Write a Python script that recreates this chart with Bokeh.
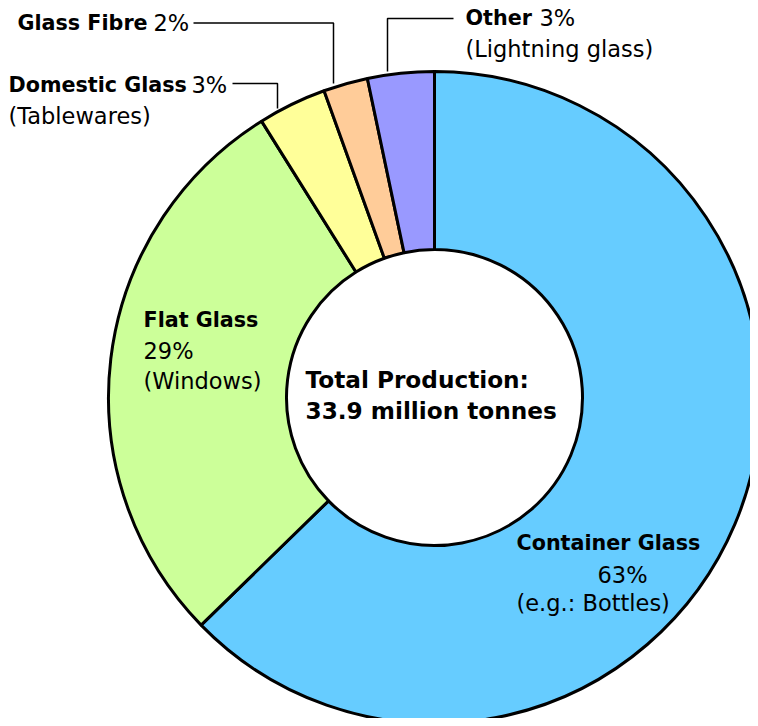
import numpy as np
from bokeh.plotting import figure
from bokeh.models import ColumnDataSource, Range1d
from bokeh.core.properties import value
from bokeh.embed import file_html
from bokeh.resources import INLINE

# ---- data ----
categories = ["Container Glass", "Flat Glass", "Domestic Glass", "Glass Fibre", "Other"]
shares = [62.7, 28.4, 3.4, 2.2, 3.3]          # wedge sizes
pct_labels = ["63%", "29%", "3%", "2%", "3%"]
notes = ["(e.g.: Bottles)", "(Windows)", "(Tablewares)", "", "(Lightning glass)"]
colors = ["#66CCFF", "#CCFF99", "#FFFF99", "#FFCC99", "#9999FF"]
center_title = "Total Production:"
center_total = "33.9 million tonnes"

# ---- layout ----
W, H = 750, 718
CX, CY = 434, -397
R_OUT, R_IN = 326, 148
FONT = "DejaVu Sans"
FS_REG = "22.5px"
FS_BOLD = "20.7px"
FS_CENTER = "23.2px"
TDY = 8  # text baseline correction

fr = np.array(shares) / sum(shares)
cum = np.concatenate([[0], np.cumsum(fr)])
start = np.pi / 2 - 2 * np.pi * cum[:-1]
end = np.pi / 2 - 2 * np.pi * cum[1:]

src = ColumnDataSource(dict(cat=categories, start=start, end=end, color=colors,
                            x=[CX] * 5, y=[CY] * 5))

p = figure(width=W, height=H, output_backend="svg", toolbar_location=None,
           x_range=Range1d(0, W), y_range=Range1d(-H, 0),
           min_border=0)
p.axis.visible = False
p.grid.visible = False
p.outline_line_color = None
p.background_fill_color = "white"

p.annular_wedge(x="x", y="y", inner_radius=R_IN, outer_radius=R_OUT,
                start_angle="start", end_angle="end", direction="clock",
                fill_color="color", line_color="black", line_width=3, source=src)

# leader lines
p.line([193, 333, 333], [-22.5, -22.5, -83], line_color="black", line_width=1.5)
p.line([232, 277, 277], [-83, -83, -108], line_color="black", line_width=1.5)
p.line([453, 387, 387], [-18, -18, -71], line_color="black", line_width=1.5)

def txt(x, y, s, bold=False, align="left", size=None):
    if size is None:
        size = FS_BOLD if bold else FS_REG
    p.text(x=[x], y=[y + TDY], text=[s], text_font=value(FONT), text_font_size=size,
           text_font_style="bold" if bold else "normal", text_color="black",
           text_align=align, text_baseline="alphabetic")

# Glass Fibre
txt(17, -30, categories[3], bold=True)
txt(153, -30, pct_labels[3])
# Domestic Glass
txt(8, -92, categories[2], bold=True)
txt(191, -92, pct_labels[2])
txt(8, -123, notes[2])
# Other
txt(465, -25, categories[4], bold=True)
txt(539, -25, pct_labels[4])
txt(465, -56, notes[4])
# Flat Glass
txt(143, -327, categories[1], bold=True)
txt(143, -358, pct_labels[1])
txt(143, -388, notes[1])
# Container Glass
txt(516, -550, categories[0], bold=True)
txt(622, -582, pct_labels[0], align="center")
txt(516, -610, notes[0])
# center
txt(305, -387, center_title, bold=True, size=FS_CENTER)
txt(305, -418, center_total, bold=True, size=FS_CENTER)

open("out.html", "w").write(file_html(p, INLINE))
